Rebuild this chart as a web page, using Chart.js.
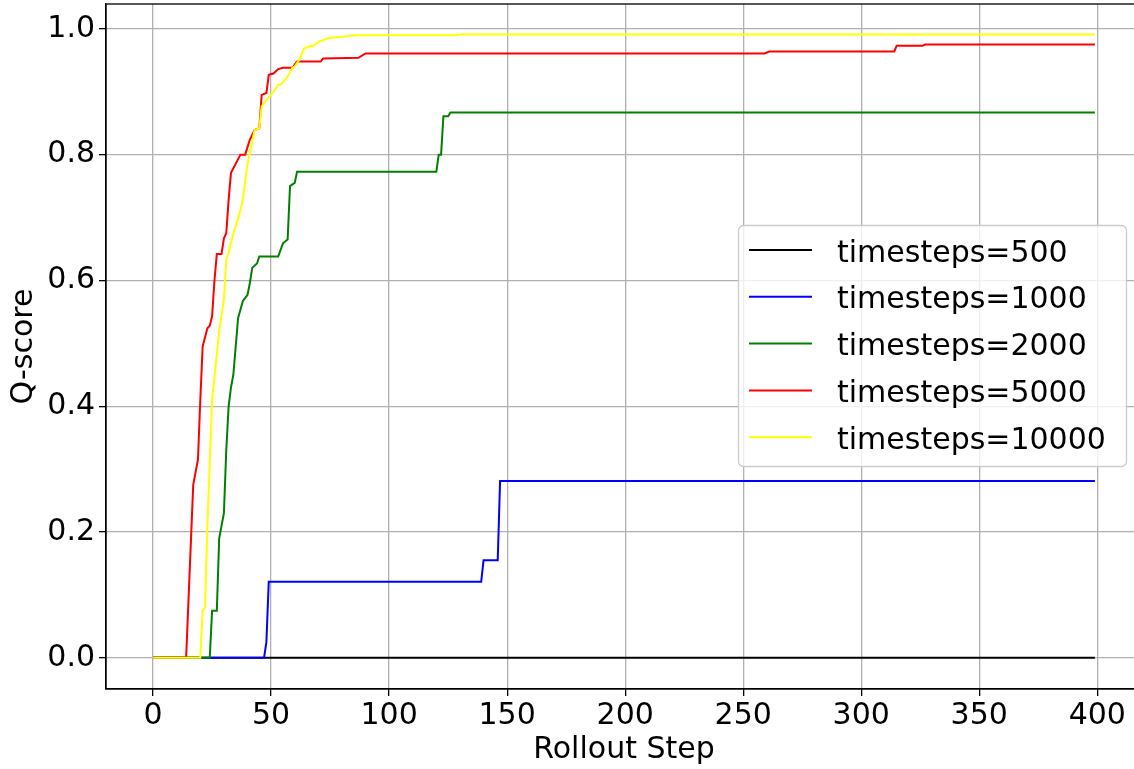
<!DOCTYPE html>
<html>
<head>
<meta charset="utf-8">
<script src="https://cdn.jsdelivr.net/npm/chart.js@4.4.1/dist/chart.umd.min.js"></script>
<style>
  html, body { margin: 0; padding: 0; background: #ffffff; overflow: hidden; }
  #wrap { width: 1134px; height: 769px; overflow: hidden; position: relative; }
  canvas { display: block; }
</style>
</head>
<body>
<div id="wrap"><canvas id="c" width="1150" height="769"></canvas></div>
<script>
// ---- data ----
const seriesLabels = ["timesteps=500", "timesteps=1000", "timesteps=2000", "timesteps=5000", "timesteps=10000"];
const seriesColors = ["#000000", "#0000ff", "#008000", "#ff0000", "#ffff00"];

const steps500 = [0, 399];
const q500     = [0, 0];

const steps1000 = [0, 47, 48, 49, 139, 140, 146, 147, 399];
const q1000     = [0, 0, 0.025, 0.121, 0.121, 0.155, 0.155, 0.281, 0.281];

const steps2000 = [0, 24, 25, 27, 28, 30, 31, 32, 33, 34, 36, 38, 40, 41, 42, 44, 45, 53, 55, 57, 58, 60, 61, 120, 121, 122, 123, 125, 126, 399];
const q2000     = [0, 0, 0.075, 0.075, 0.19, 0.23, 0.33, 0.40, 0.43, 0.45, 0.54, 0.567, 0.577, 0.596, 0.62, 0.627, 0.638, 0.638, 0.659, 0.665, 0.75, 0.755, 0.773, 0.773, 0.80, 0.80, 0.861, 0.861, 0.867, 0.867];

const steps5000 = [0, 14, 17, 19, 20, 21, 23, 24, 25, 26, 27, 29, 30, 31, 32, 33, 37, 39, 41, 43, 45, 46, 48, 49, 51, 53, 55, 59, 61, 71, 72, 87, 90, 259, 261, 314, 315, 326, 327, 399];
const q5000     = [0, 0, 0.275, 0.315, 0.41, 0.495, 0.524, 0.528, 0.543, 0.60, 0.642, 0.642, 0.667, 0.675, 0.728, 0.771, 0.80, 0.80, 0.824, 0.839, 0.842, 0.895, 0.898, 0.927, 0.929, 0.936, 0.938, 0.938, 0.948, 0.948, 0.953, 0.954, 0.961, 0.961, 0.964, 0.964, 0.973, 0.973, 0.975, 0.975];

const steps10000 = [0, 20, 21, 22, 23, 25, 28, 29, 30, 31, 32, 34, 35, 37, 38, 40, 43, 45, 46, 49, 51, 53, 54, 57, 59, 60, 62, 64, 66, 68, 70, 74, 79, 86, 128, 130, 399];
const q10000     = [0, 0, 0.075, 0.08, 0.21, 0.41, 0.52, 0.545, 0.569, 0.633, 0.644, 0.675, 0.686, 0.712, 0.728, 0.786, 0.839, 0.842, 0.877, 0.891, 0.90, 0.911, 0.911, 0.924, 0.938, 0.94, 0.951, 0.969, 0.972, 0.973, 0.979, 0.985, 0.987, 0.990, 0.990, 0.991, 0.991];

const xTicks = [0, 50, 100, 150, 200, 250, 300, 350, 400];
const yTicks = [0.0, 0.2, 0.4, 0.6, 0.8, 1.0];
const xTitle = "Rollout Step";
const yTitle = "Q-score";

// ---- build ----
const stepLists = [steps500, steps1000, steps2000, steps5000, steps10000];
const qLists = [q500, q1000, q2000, q5000, q10000];

const FONT = "DejaVu Sans";
Chart.defaults.font.family = FONT;
Chart.defaults.color = "#000000";

const datasets = seriesLabels.map((lab, i) => ({
  label: lab,
  data: stepLists[i].map((s, k) => ({ x: s, y: qLists[i][k] })),
  borderColor: seriesColors[i],
  backgroundColor: seriesColors[i],
  borderWidth: 2,
  pointRadius: 0,
  tension: 0,
  fill: false,
  order: seriesLabels.length - i
}));

const spinePlugin = {
  id: "spines",
  afterDatasetsDraw(chart) {
    const { ctx, chartArea: a } = chart;
    ctx.save();
    ctx.strokeStyle = "#000000";
    ctx.lineWidth = 1.3;
    ctx.strokeRect(a.left, a.top, a.right - a.left, a.bottom - a.top);
    ctx.restore();
  }
};

const legendPlugin = {
  id: "mplLegend",
  afterDraw(chart) {
    const ctx = chart.ctx;
    const box = { x: 738.5, y: 225.5, w: 388, h: 241, r: 5 };
    ctx.save();
    ctx.beginPath();
    if (ctx.roundRect) ctx.roundRect(box.x, box.y, box.w, box.h, box.r);
    else ctx.rect(box.x, box.y, box.w, box.h);
    ctx.fillStyle = "rgba(255,255,255,0.8)";
    ctx.fill();
    ctx.strokeStyle = "#cccccc";
    ctx.lineWidth = 1.3;
    ctx.stroke();
    ctx.font = "30px '" + FONT + "'";
    ctx.textBaseline = "alphabetic";
    ctx.textAlign = "left";
    chart.data.datasets.forEach((ds, i) => {
      const yRow = 250 + i * 46.8;
      ctx.beginPath();
      ctx.moveTo(749, yRow);
      ctx.lineTo(812, yRow);
      ctx.strokeStyle = ds.borderColor;
      ctx.lineWidth = 2;
      ctx.stroke();
      ctx.fillStyle = "#000000";
      ctx.fillText(ds.label, 837, yRow + 11.5);
    });
    ctx.restore();
  }
};

function noPad(scale) {
  scale.paddingTop = 0;
  scale.paddingBottom = 0;
  scale.paddingLeft = 0;
  scale.paddingRight = 0;
}

new Chart(document.getElementById("c"), {
  type: "line",
  data: { datasets },
  plugins: [spinePlugin, legendPlugin],
  options: {
    responsive: false,
    devicePixelRatio: 1,
    animation: false,
    layout: { padding: { left: 0, right: 8, top: 4, bottom: 0 } },
    plugins: { legend: { display: false }, tooltip: { enabled: false } },
    scales: {
      x: {
        type: "linear",
        min: -19.95,
        max: 418.95,
        afterBuildTicks: (scale) => { scale.ticks = xTicks.map(v => ({ value: v })); },
        afterFit: (scale) => { scale.height = 80; noPad(scale); },
        ticks: {
          autoSkip: false, maxRotation: 0, minRotation: 0,
          font: { size: 30, family: FONT }, color: "#000000", padding: 2,
          callback: (v) => String(v)
        },
        grid: { color: "#b0b0b0", lineWidth: 1.3, tickLength: 7, tickColor: "#000000", tickWidth: 1.3 },
        border: { color: "#000000", width: 1.3 },
        title: { display: true, text: xTitle, font: { size: 30, family: FONT }, color: "#000000", padding: { top: 0, bottom: 1 } }
      },
      y: {
        type: "linear",
        min: -0.0495,
        max: 1.0395,
        afterBuildTicks: (scale) => { scale.ticks = yTicks.map(v => ({ value: v })); },
        afterFit: (scale) => { scale.width = 106; noPad(scale); },
        ticks: {
          autoSkip: false,
          font: { size: 30, family: FONT }, color: "#000000", padding: 4,
          callback: (v) => Number(v).toFixed(1)
        },
        grid: { color: "#b0b0b0", lineWidth: 1.3, tickLength: 7, tickColor: "#000000", tickWidth: 1.3 },
        border: { color: "#000000", width: 1.3 },
        title: { display: true, text: yTitle, font: { size: 30, family: FONT }, color: "#000000", padding: { top: 6, bottom: 0 } }
      }
    }
  }
});
</script>
</body>
</html>
